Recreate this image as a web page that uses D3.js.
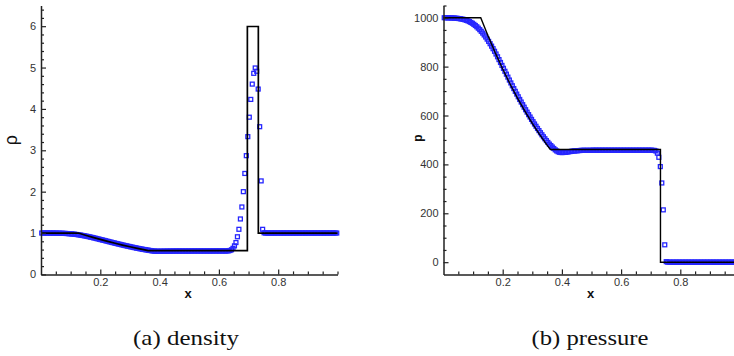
<!DOCTYPE html>
<html><head><meta charset="utf-8">
<script src="https://cdn.jsdelivr.net/npm/d3@7"></script>
<style>body{margin:0;background:#fff;overflow:hidden}svg{display:block}</style>
</head><body><svg id="c" width="734" height="356"></svg>
<script>
// ---- data ----
const cellX = [
0.0025,0.0075,0.0125,0.0175,0.0225,0.0275,0.0325,0.0375,0.0425,0.0475,
0.0525,0.0575,0.0625,0.0675,0.0725,0.0775,0.0825,0.0875,0.0925,0.0975,
0.1025,0.1075,0.1125,0.1175,0.1225,0.1275,0.1325,0.1375,0.1425,0.1475,
0.1525,0.1575,0.1625,0.1675,0.1725,0.1775,0.1825,0.1875,0.1925,0.1975,
0.2025,0.2075,0.2125,0.2175,0.2225,0.2275,0.2325,0.2375,0.2425,0.2475,
0.2525,0.2575,0.2625,0.2675,0.2725,0.2775,0.2825,0.2875,0.2925,0.2975,
0.3025,0.3075,0.3125,0.3175,0.3225,0.3275,0.3325,0.3375,0.3425,0.3475,
0.3525,0.3575,0.3625,0.3675,0.3725,0.3775,0.3825,0.3875,0.3925,0.3975,
0.4025,0.4075,0.4125,0.4175,0.4225,0.4275,0.4325,0.4375,0.4425,0.4475,
0.4525,0.4575,0.4625,0.4675,0.4725,0.4775,0.4825,0.4875,0.4925,0.4975,
0.5025,0.5075,0.5125,0.5175,0.5225,0.5275,0.5325,0.5375,0.5425,0.5475,
0.5525,0.5575,0.5625,0.5675,0.5725,0.5775,0.5825,0.5875,0.5925,0.5975,
0.6025,0.6075,0.6125,0.6175,0.6225,0.6275,0.6325,0.6375,0.6425,0.6475,
0.6525,0.6575,0.6625,0.6675,0.6725,0.6775,0.6825,0.6875,0.6925,0.6975,
0.7025,0.7075,0.7125,0.7175,0.7225,0.7275,0.7325,0.7375,0.7425,0.7475,
0.7525,0.7575,0.7625,0.7675,0.7725,0.7775,0.7825,0.7875,0.7925,0.7975,
0.8025,0.8075,0.8125,0.8175,0.8225,0.8275,0.8325,0.8375,0.8425,0.8475,
0.8525,0.8575,0.8625,0.8675,0.8725,0.8775,0.8825,0.8875,0.8925,0.8975,
0.9025,0.9075,0.9125,0.9175,0.9225,0.9275,0.9325,0.9375,0.9425,0.9475,
0.9525,0.9575,0.9625,0.9675,0.9725,0.9775,0.9825,0.9875,0.9925,0.9975];

const densityNum = [
1.000,1.000,1.000,1.000,0.9995,0.9993,0.9991,0.9988,0.9984,0.9979,
0.9973,0.9966,0.9957,0.9947,0.9934,0.9918,0.9901,0.9879,0.9853,0.9826,
0.9793,0.9755,0.9717,0.967,0.9618,0.957,0.951,0.945,0.938,0.932,
0.924,0.917,0.909,0.901,0.893,0.884,0.876,0.867,0.858,0.849,
0.840,0.831,0.8225,0.813,0.804,0.795,0.786,0.777,0.768,0.759,
0.750,0.741,0.733,0.724,0.716,0.707,0.699,0.691,0.683,0.675,
0.667,0.659,0.651,0.644,0.636,0.629,0.622,0.615,0.608,0.602,
0.596,0.590,0.584,0.578,0.572,0.567,0.563,0.561,0.560,0.560,
0.560,0.5605,0.561,0.5615,0.562,0.5625,0.563,0.5635,0.564,0.5645,
0.565,0.565,0.565,0.565,0.565,0.565,0.565,0.565,0.565,0.565,
0.565,0.566,0.566,0.566,0.566,0.566,0.566,0.566,0.566,0.566,
0.566,0.566,0.566,0.566,0.566,0.566,0.567,0.567,0.567,0.567,
0.567,0.567,0.567,0.567,0.567,0.567,0.570,0.578,0.595,0.63,
0.69,0.77,0.91,1.09,1.34,1.63,2.0,2.44,2.87,3.33,
3.80,4.23,4.60,4.86,4.99,4.91,4.48,3.57,2.26,1.09,
1.005,1.0,1.0,1.0,1.0,1.0,1.0,1.0,1.0,1.0,
1.0,1.0,1.0,1.0,1.0,1.0,1.0,1.0,1.0,1.0,
1.0,1.0,1.0,1.0,1.0,1.0,1.0,1.0,1.0,1.0,
1.0,1.0,1.0,1.0,1.0,1.0,1.0,1.0,1.0,1.0,
1.0,1.0,1.0,1.0,1.0,1.0,1.0,1.0,1.0,1.0];

const pressureNum = [
999.9,999.9,999.8,999.5,999.3,999.1,998.8,998.4,998.0,997.3,
996.5,995.6,994.4,993.1,991.4,989.3,987.1,984.2,980.8,977.4,
973.0,968.2,963.0,957.3,951.1,944.4,937.2,929.5,921.3,912.5,
903.3,893.7,883.7,873.3,862.6,851.6,840.3,828.7,816.9,804.9,
792.9,780.9,769.0,757.0,745.0,733.3,721.7,710.2,698.8,687.6,
676.6,665.7,655.0,644.4,634.0,623.7,613.6,603.6,593.8,584.1,
574.6,565.2,556.0,547.0,538.2,529.6,521.2,513.0,505.0,497.4,
490.0,483.0,477.0,471.0,465.0,459.5,455.0,451.5,449.5,448.5,
448.5,449,449.5,450.5,451.5,452.5,453.5,454.5,455,455.5,
456,456.5,457,457.5,457.5,457.5,457.5,457.5,457.5,457.5,
458,458,458,458,458,458,458,458,458,458,
458,458,458,458,458,458,458,458,458,458,
458,458,458,458,458,458,458,458,458,458,
458,458,458,458,458,458,458,458,458,458,
458,457.5,457,455,446,429,391,324,214,71,
2,0.01,0.01,0.01,0.01,0.01,0.01,0.01,0.01,0.01,
0.01,0.01,0.01,0.01,0.01,0.01,0.01,0.01,0.01,0.01,
0.01,0.01,0.01,0.01,0.01,0.01,0.01,0.01,0.01,0.01,
0.01,0.01,0.01,0.01,0.01,0.01,0.01,0.01,0.01,0.01,
0.01,0.01,0.01,0.01,0.01,0.01,0.01,0.01,0.01,0.01];

const exactX        = [0, 0.1258, 0.15, 0.175, 0.2, 0.225, 0.25, 0.275, 0.3, 0.325, 0.35, 0.3611, 0.696, 0.696, 0.733, 0.733, 1];
const densityExact  = [1, 1, 0.9473, 0.8951, 0.8453, 0.7978, 0.7524, 0.7091, 0.6678, 0.6284, 0.5910, 0.575, 0.575, 5.992, 5.992, 1, 1];
const pressureExact = [1000, 1000, 926.9, 856.3, 790.4, 728.8, 671.4, 618.0, 568.2, 521.8, 478.8, 460.9, 460.9, 460.9, 460.9, 0.01, 0.01];

const xTickLabels   = [0.2, 0.4, 0.6, 0.8];
const densityTicks  = [0, 1, 2, 3, 4, 5, 6];
const pressureTicks = [0, 200, 400, 600, 800, 1000];
const captions      = ["(a) density", "(b) pressure"];
const yTitles       = ["\u03c1", "p"];

// ---- drawing ----
const svg = d3.select("#c");
const AX = "#222", LBL = "#333";
const SANS = "'Liberation Sans', Arial, Helvetica, sans-serif";

function panel(o) {
  const x = d3.scaleLinear().domain([0, 1]).range(o.xr);
  const y = d3.scaleLinear().domain(o.yd).range([274.4, 5.5]);
  const g = svg.append("g");
  const x0 = o.xr[0], yB = 274.4;

  // numerical (blue squares)
  const s = 3.9;
  g.append("g").selectAll("rect").data(cellX).join("rect")
    .attr("x", (d) => x(d) - s / 2)
    .attr("y", (d, i) => y(o.num[i]) - s / 2)
    .attr("width", s).attr("height", s)
    .attr("fill", "none").attr("stroke", "#2626ff").attr("stroke-width", 1.3);

  // exact (black line)
  const line = d3.line().x((d) => x(d)).y((d, i) => y(o.ex[i]));
  g.append("path").datum(exactX).attr("d", line)
    .attr("fill", "none").attr("stroke", "#000").attr("stroke-width", o.lw)
    .attr("stroke-linejoin", "miter");

  // axes
  const xMinor = x.ticks(20).filter((t) => t > 0.001 && !xTickLabels.some((m) => Math.abs(m - t) < 1e-9));
  const yMinor = y.ticks(o.minorCount).filter((t) => t > o.yd[0] + 1e-9 && !o.yt.some((m) => Math.abs(m - t) < 1e-9));

  g.append("g").attr("transform", `translate(0,${yB})`)
    .call(d3.axisBottom(x).tickValues(xTickLabels).tickFormat(d3.format(".1f")).tickSizeInner(-5).tickSizeOuter(0).tickPadding(4));
  g.append("g").attr("transform", `translate(0,${yB})`)
    .call(d3.axisBottom(x).tickValues(xMinor).tickFormat("").tickSizeInner(-3).tickSizeOuter(0))
    .select(".domain").remove();
  g.append("g").attr("transform", `translate(${x0},0)`)
    .call(d3.axisLeft(y).tickValues(o.yt).tickFormat(d3.format("d")).tickSizeInner(-5).tickSizeOuter(0).tickPadding(5));
  g.append("g").attr("transform", `translate(${x0},0)`)
    .call(d3.axisLeft(y).tickValues(yMinor).tickFormat("").tickSizeInner(-3).tickSizeOuter(0))
    .select(".domain").remove();

  g.selectAll(".domain").attr("stroke", AX).attr("stroke-width", 1.5);
  g.selectAll(".tick line").attr("stroke", AX).attr("stroke-width", 1.2);
  g.selectAll(".tick text").attr("fill", LBL).attr("font-family", SANS).attr("font-size", 11);

  // titles
  g.append("text").attr("x", o.xLabelX).attr("y", 297.5).attr("text-anchor", "middle")
    .attr("font-family", SANS).attr("font-weight", "bold").attr("font-size", 13).attr("fill", "#111").text("x");
  g.append("text").attr("transform", `translate(${o.yLabelX},${o.yLabelY}) rotate(-90)`)
    .attr("text-anchor", "middle").attr("font-family", SANS).attr("font-weight", o.yLabelWeight)
    .attr("font-size", o.yLabelSize).attr("fill", "#111").text(o.title);

  // caption
  svg.append("text").attr("x", o.capX).attr("y", 345).attr("text-anchor", "middle")
    .attr("font-family", "'Liberation Serif', 'Times New Roman', serif").attr("font-size", 21)
    .attr("fill", "#111").attr("textLength", o.capW).attr("lengthAdjust", "spacingAndGlyphs").text(o.caption);
}

panel({ xr: [41, 337.5], yd: [0, 6.5], yt: densityTicks, minorCount: 30, num: densityNum, ex: densityExact,
        lw: 1.7, xLabelX: 188, yLabelX: 17, yLabelY: 140, yLabelSize: 18, yLabelWeight: "normal", title: yTitles[0],
        capX: 186, capW: 106, caption: captions[0] });
panel({ xr: [443.5, 739.5], yd: [-50, 1050], yt: pressureTicks, minorCount: 22, num: pressureNum, ex: pressureExact,
        lw: 1.4, xLabelX: 590.5, yLabelX: 422, yLabelY: 138, yLabelSize: 12, yLabelWeight: "bold", title: yTitles[1],
        capX: 590, capW: 117, caption: captions[1] });
</script></body></html>
